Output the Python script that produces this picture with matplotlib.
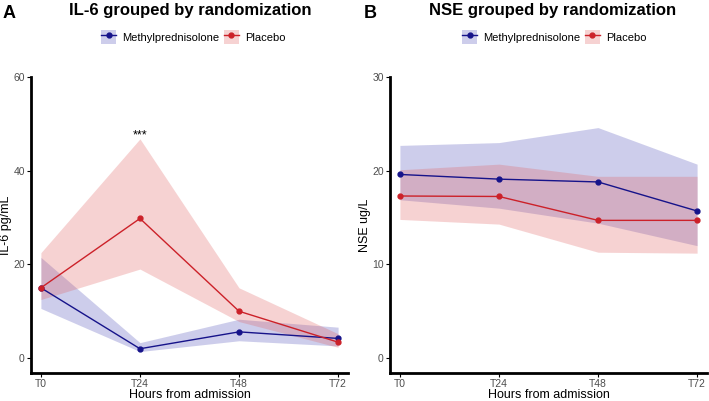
import numpy as np
import matplotlib.pyplot as plt
from matplotlib.lines import Line2D
from matplotlib.patches import Patch
from matplotlib.legend_handler import HandlerTuple

plt.rcParams['font.family'] = ['Liberation Sans', 'DejaVu Sans']

times = ["T0", "T24", "T48", "T72"]

# IL-6 (pg/mL)
il6_mp = [15.0, 2.0, 5.6, 4.2]
il6_mp_lo = [10.6, 1.4, 3.7, 2.6]
il6_mp_hi = [21.5, 3.3, 8.3, 6.6]
il6_pl = [15.0, 29.8, 10.0, 3.4]
il6_pl_lo = [12.5, 19.0, 7.8, 2.3]
il6_pl_hi = [22.5, 46.8, 15.0, 5.2]

# NSE (ug/L)
nse_mp = [19.6, 19.1, 18.8, 15.7]
nse_mp_lo = [16.9, 16.0, 14.4, 12.0]
nse_mp_hi = [22.7, 23.0, 24.6, 20.7]
nse_pl = [17.3, 17.25, 14.7, 14.7]
nse_pl_lo = [14.8, 14.3, 11.3, 11.2]
nse_pl_hi = [20.1, 20.7, 19.4, 19.4]

blue = "#16138a"
red = "#cc2129"
blue_fill = "#3a3ab0"
red_fill = "#e06060"

fig = plt.figure(figsize=(7.09, 4.01), dpi=100)
W, H = 709, 401


def make_ax(left, right, top, bottom):
    return fig.add_axes([left / W, 1 - bottom / H, (right - left) / W, (bottom - top) / H])


def draw_panel(ax, mp, mp_lo, mp_hi, pl, pl_lo, pl_hi, ymax, ylabel):
    x = np.arange(len(times))
    ax.fill_between(x, mp_lo, mp_hi, color=blue_fill, alpha=0.25, lw=0)
    ax.fill_between(x, pl_lo, pl_hi, color=red_fill, alpha=0.28, lw=0)
    ax.plot(x, mp, color=blue, lw=1, marker="o", ms=3.5)
    ax.plot(x, pl, color=red, lw=1, marker="o", ms=3.5)
    ax.set_xlim(-0.1, 3.1)
    ax.set_ylim(-ymax * 0.053, ymax)
    ax.set_xticks(x)
    ax.set_xticklabels(times)
    ax.set_yticks(np.linspace(0, ymax, 4))
    for s in ["top", "right"]:
        ax.spines[s].set_visible(False)
    for s in ["left", "bottom"]:
        ax.spines[s].set_linewidth(2)
    ax.tick_params(labelsize=7.5, labelcolor="#4d4d4d", length=3, width=0.8, pad=1.5)
    ax.set_xlabel("Hours from admission", fontsize=9)
    ax.set_ylabel(ylabel, fontsize=9)
    ax.xaxis.set_label_coords(0.5, -15.5 / 296)
    ax.yaxis.set_label_coords(-19 / 317, 0.5)


handles = [
    (Patch(facecolor=blue_fill, alpha=0.25, lw=0), Line2D([], [], color=blue, lw=1, marker="o", ms=3.5)),
    (Patch(facecolor=red_fill, alpha=0.28, lw=0), Line2D([], [], color=red, lw=1, marker="o", ms=3.5)),
]

ax1 = make_ax(31, 348, 77, 373)
draw_panel(ax1, il6_mp, il6_mp_lo, il6_mp_hi, il6_pl, il6_pl_lo, il6_pl_hi, 60, "IL-6 pg/mL")
ax1.text(1, 46.2, "***", ha="center", va="bottom", fontsize=9)

ax2 = make_ax(390, 707, 77, 373)
draw_panel(ax2, nse_mp, nse_mp_lo, nse_mp_hi, nse_pl, nse_pl_lo, nse_pl_hi, 30, "NSE ug/L")

fig.text(190 / W, 1 - 10 / H, "IL-6 grouped by randomization", ha="center", va="center",
         fontsize=12, fontweight="bold")
fig.text(553 / W, 1 - 10 / H, "NSE grouped by randomization", ha="center", va="center",
         fontsize=12, fontweight="bold")
fig.text(3 / W, 1 - 13 / H, "A", ha="left", va="center", fontsize=13, fontweight="bold")
fig.text(364 / W, 1 - 13 / H, "B", ha="left", va="center", fontsize=13, fontweight="bold")

for cx in (193, 554):
    fig.legend(handles, ["Methylprednisolone", "Placebo"], loc="center",
               bbox_to_anchor=(cx / W, 1 - 37 / H), ncol=2, frameon=False, fontsize=8,
               handlelength=1.4, handleheight=1.5, columnspacing=0.4, handletextpad=0.5,
               handler_map={tuple: HandlerTuple(ndivide=1)})

fig.savefig("out.png", dpi=100)
